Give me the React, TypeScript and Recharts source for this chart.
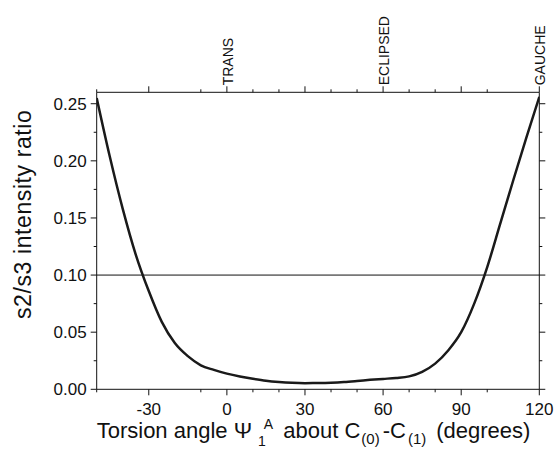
import { LineChart, Line, XAxis, YAxis, ReferenceLine } from 'recharts';

// Torsion angle (degrees) and the s2/s3 intensity ratio at each angle
const angles = [
  -50, -45, -40, -35, -30, -25, -20, -15, -10, -5, 0, 5, 10, 15, 20, 25, 30,
  35, 40, 45, 50, 55, 60, 65, 70, 75, 80, 85, 90, 95, 100, 105, 110, 115, 120,
];
const ratios = [
  0.255, 0.204, 0.158, 0.118, 0.086, 0.059, 0.0405, 0.029, 0.021, 0.017, 0.0137,
  0.0112, 0.0092, 0.0075, 0.0064, 0.0057, 0.0054, 0.0055, 0.0058, 0.0064, 0.0073, 0.0083,
  0.0091, 0.0099, 0.0113, 0.0153, 0.0225, 0.034, 0.050, 0.075, 0.107, 0.145, 0.183,
  0.220, 0.256,
];

const angleTicks = [-50, -40, -30, -20, -10, 0, 10, 20, 30, 40, 50, 60, 70, 80, 90, 100, 110, 120];
const ratioTicks = [0, 0.025, 0.05, 0.075, 0.1, 0.125, 0.15, 0.175, 0.2, 0.225, 0.25];

// Conformations marked along the top axis
const conformerAngles = [0, 60, 120];
const conformerLabels = ['TRANS', 'ECLIPSED', 'GAUCHE'];

const threshold = 0.1;

const data = angles.map((angle, i) => ({ angle, ratio: ratios[i] }));

const FONT = '"Liberation Sans", Arial, Helvetica, sans-serif';
const INK = '#111';

const isMajorAngle = (v: number) => v % 30 === 0;
const isMajorRatio = (v: number) => Math.round(v * 1000) % 50 === 0;

const BottomTick = ({ x, y, payload }: any) => {
  const major = isMajorAngle(payload.value);
  return (
    <g>
      <line x1={x} y1={y} x2={x} y2={y + (major ? 6 : 3)} stroke={INK} strokeWidth={1} />
      {major && (
        <text x={x} y={y + 26} textAnchor="middle" fontSize={17} fontFamily={FONT} fill={INK}>
          {payload.value}
        </text>
      )}
    </g>
  );
};

const TopTick = ({ x, y, payload }: any) => {
  const major = isMajorAngle(payload.value);
  const idx = conformerAngles.indexOf(payload.value);
  return (
    <g>
      <line x1={x} y1={y} x2={x} y2={y - (major ? 6 : 3)} stroke={INK} strokeWidth={1} />
      {idx >= 0 && (
        <text
          x={x + 6}
          y={y - 7}
          transform={`rotate(-90 ${x + 6} ${y - 7})`}
          textAnchor="start"
          fontSize={14}
          fontFamily={FONT}
          fill={INK}
        >
          {conformerLabels[idx]}
        </text>
      )}
    </g>
  );
};

const LeftTick = ({ x, y, payload }: any) => {
  const major = isMajorRatio(payload.value);
  return (
    <g>
      <line x1={x} y1={y} x2={x - (major ? 6 : 3)} y2={y} stroke={INK} strokeWidth={1} />
      {major && (
        <text x={x - 10} y={y} dy="0.36em" textAnchor="end" fontSize={17} fontFamily={FONT} fill={INK}>
          {payload.value.toFixed(2)}
        </text>
      )}
    </g>
  );
};

const RightTick = ({ x, y, payload }: any) => {
  const major = isMajorRatio(payload.value);
  return <line x1={x} y1={y} x2={x + (major ? 6 : 3)} y2={y} stroke={INK} strokeWidth={1} />;
};

const XTitle = ({ viewBox }: any) => {
  const { x, y } = viewBox;
  return (
    <text x={x} y={y + 49} fontSize={22} fontFamily={FONT} fill={INK}>
      <tspan>Torsion angle Ψ</tspan>
      <tspan fontSize={14} dx={6} dy={8}>1</tspan>
      <tspan fontSize={14} dx={-2} dy={-17}>A</tspan>
      <tspan dx={4} dy={9}> about C</tspan>
      <tspan fontSize={15} dx={1} dy={6}>(0)</tspan>
      <tspan dx={3} dy={-6}>-C</tspan>
      <tspan fontSize={15} dx={2} dy={6}>(1)</tspan>
      <tspan dx={10} dy={-6}>(degrees)</tspan>
    </text>
  );
};

const YTitle = ({ viewBox }: any) => {
  const { x, y } = viewBox;
  const cx = x - 14;
  const cy = y + 122;
  return (
    <text
      x={cx}
      y={cy}
      transform={`rotate(-90 ${cx} ${cy})`}
      textAnchor="middle"
      dominantBaseline="central"
      fontSize={23}
      letterSpacing={0.6}
      fontFamily={FONT}
      fill={INK}
    >
      s2/s3 intensity ratio
    </text>
  );
};

export default function App() {
  return (
    <div style={{ position: 'absolute', left: 0, top: 0, width: 557, height: 451, background: '#fff' }}>
      <LineChart
        width={557}
        height={451}
        data={data}
        margin={{ top: 22.3, right: 7.7, bottom: 21.7, left: 36.7 }}
      >
        <XAxis
          xAxisId="bottom"
          dataKey="angle"
          type="number"
          domain={[-50, 120]}
          ticks={angleTicks}
          allowDataOverflow
          height={40}
          tickSize={0}
          tickMargin={0}
          tick={<BottomTick />}
          axisLine={{ stroke: INK, strokeWidth: 1 }}
          label={{ content: <XTitle /> }}
        />
        <XAxis
          xAxisId="top"
          orientation="top"
          dataKey="angle"
          type="number"
          domain={[-50, 120]}
          ticks={angleTicks}
          allowDataOverflow
          height={70}
          tickSize={0}
          tickMargin={0}
          tick={<TopTick />}
          axisLine={{ stroke: INK, strokeWidth: 1 }}
        />
        <YAxis
          yAxisId="left"
          type="number"
          domain={[0, 0.26]}
          ticks={ratioTicks}
          allowDataOverflow
          width={60}
          tickSize={0}
          tickMargin={0}
          tick={<LeftTick />}
          axisLine={{ stroke: INK, strokeWidth: 1 }}
          label={{ content: <YTitle /> }}
        />
        <YAxis
          yAxisId="right"
          orientation="right"
          type="number"
          domain={[0, 0.26]}
          ticks={ratioTicks}
          allowDataOverflow
          width={10}
          tickSize={0}
          tickMargin={0}
          tick={<RightTick />}
          axisLine={{ stroke: INK, strokeWidth: 1 }}
        />
        <ReferenceLine xAxisId="bottom" yAxisId="left" y={threshold} stroke={INK} strokeWidth={1} />
        <Line
          xAxisId="bottom"
          yAxisId="left"
          type="monotone"
          dataKey="ratio"
          stroke="#1a1a1a"
          strokeWidth={2.5}
          dot={false}
          activeDot={false}
          isAnimationActive={false}
        />
      </LineChart>
    </div>
  );
}
